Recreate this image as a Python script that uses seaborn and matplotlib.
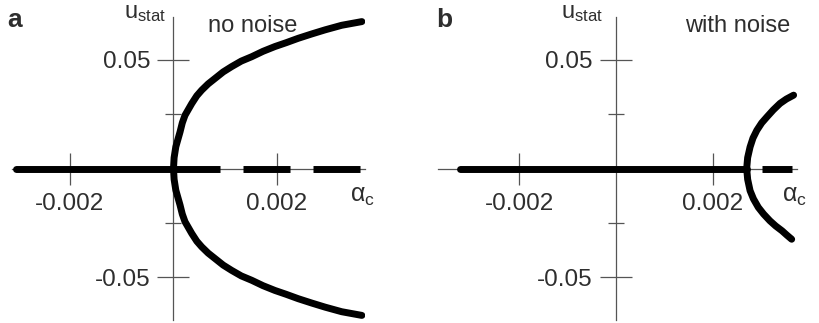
import numpy as np
import pandas as pd
import matplotlib
matplotlib.use("Agg")
import matplotlib.pyplot as plt
import seaborn as sns

# ---------------- data ----------------
# panel a: no noise, pitchfork at alpha_c = 0 (branch listed from bottom to top)
a_branch_alpha = [0.00364, 0.00325, 0.00293, 0.00267, 0.00241, 0.00218, 0.00196, 0.00173, 0.00151,
                  0.00131, 0.00112, 0.00096, 0.000802, 0.00067, 0.000545, 0.00045, 0.000352,
                  0.000222, 0.00017, 0.000126, 0.000045, 0.000012, 0.0,
                  0.000012, 0.000045, 0.000126, 0.00017, 0.000222, 0.000352, 0.00045, 0.000545,
                  0.00067, 0.000802, 0.00096, 0.00112, 0.00131, 0.00151, 0.00173, 0.00196,
                  0.00218, 0.00241, 0.00267, 0.00293, 0.00325, 0.00364]
a_branch_u = [-0.0677, -0.066, -0.0639, -0.062, -0.0600, -0.058, -0.0562, -0.054, -0.0515,
              -0.0495, -0.0469, -0.0445, -0.0415, -0.039, -0.0361, -0.0335, -0.0299,
              -0.0245, -0.021, -0.0168, -0.010, -0.005, 0.0,
              0.005, 0.010, 0.0168, 0.021, 0.0245, 0.0299, 0.0335, 0.0361,
              0.039, 0.0415, 0.0445, 0.0469, 0.0495, 0.0515, 0.054, 0.0562,
              0.058, 0.0600, 0.062, 0.0639, 0.066, 0.0677]
a_stable_alpha = [-0.00305, 0.0]
a_unstable_alpha = [0.0, 0.00368]

# panel b: with noise, bifurcation shifted to the right
b_branch_alpha = [0.00363, 0.00353, 0.00343, 0.0033, 0.00318, 0.00305, 0.00294, 0.00284, 0.00277,
                  0.00272, 0.0027,
                  0.00272, 0.00277, 0.00283, 0.00291, 0.00301, 0.00312, 0.00325, 0.00339,
                  0.00352, 0.00367]
b_branch_u = [-0.0326, -0.0307, -0.0287, -0.0265, -0.0241, -0.021, -0.0179, -0.014, -0.0102,
              -0.005, 0.0,
              0.005, 0.0099, 0.014, 0.0176, 0.021, 0.0238, 0.027, 0.0300,
              0.032, 0.0338]
b_stable_alpha = [-0.00323, 0.0027]
b_unstable_alpha = [0.0027, 0.00363]

x_ticks = [-0.002, 0.002]
x_tick_labels = ["-0.002", "0.002"]
y_ticks = [-0.05, 0.05]
y_tick_labels = ["-0.05", "0.05"]
y_minor = [-0.025, 0.025]

# ---------------- style ----------------
sns.set_style("white")
plt.rcParams["font.family"] = ["Liberation Sans", "DejaVu Sans"]
plt.rcParams["mathtext.fontset"] = "custom"
plt.rcParams["mathtext.rm"] = "Liberation Sans"
plt.rcParams["mathtext.it"] = "Liberation Sans:italic"

TXT = "#2e2e2e"
AX = "#555555"
LW = 5.0
W, H = 819, 323

fig = plt.figure(figsize=(W / 100, H / 100), dpi=100)

def px_axes(left, right, top, bottom):
    return fig.add_axes([left / W, 1 - bottom / H, (right - left) / W, (bottom - top) / H])

ax_a = px_axes(12, 365, 16.6, 320.4)
ax_b = px_axes(438, 797, 16.6, 320.4)

def style_axes(ax, xlim):
    ax.set_xlim(*xlim)
    ax.set_ylim(-0.07, 0.07)
    for s in ["top", "right"]:
        ax.spines[s].set_visible(False)
    for s in ["left", "bottom"]:
        ax.spines[s].set_position(("data", 0))
        ax.spines[s].set_color(AX)
        ax.spines[s].set_linewidth(0.9)
        ax.spines[s].set_zorder(0.5)
    ax.set_xticks(x_ticks)
    ax.set_xticklabels(x_tick_labels)
    ax.set_yticks(y_ticks)
    ax.set_yticklabels(y_tick_labels)
    ax.set_yticks(y_minor, minor=True)
    ax.tick_params(bottom=True, left=True, top=False, right=False)
    ax.tick_params(axis="both", which="major", direction="inout", length=23, width=0.9,
                   color=AX, labelcolor=TXT, labelsize=17.5)
    ax.tick_params(axis="x", which="major", pad=6.5)
    ax.tick_params(axis="y", which="major", pad=5.4)
    ax.tick_params(axis="y", which="minor", left=True, direction="inout", length=11.5,
                   width=0.9, color=AX)
    ax.tick_params(axis="x", which="minor", bottom=False, length=0)
    ax.set_xlabel("")
    ax.set_ylabel("")
    ax.patch.set_alpha(0)

def draw(ax, br_alpha, br_u, st_alpha, un_alpha, dash_offset):
    df_br = pd.DataFrame({"alpha": br_alpha, "u": br_u})
    sns.lineplot(data=df_br, x="alpha", y="u", sort=False, estimator=None, ax=ax,
                 color="black", linewidth=LW, solid_capstyle="round", solid_joinstyle="round")
    df_st = pd.DataFrame({"alpha": st_alpha, "u": [0.0] * len(st_alpha)})
    sns.lineplot(data=df_st, x="alpha", y="u", sort=False, estimator=None, ax=ax,
                 color="black", linewidth=LW, solid_capstyle="round")
    df_un = pd.DataFrame({"alpha": un_alpha, "u": [0.0] * len(un_alpha)})
    sns.lineplot(data=df_un, x="alpha", y="u", sort=False, estimator=None, ax=ax,
                 color="black", linewidth=LW)
    ax.lines[-1].set_linestyle((dash_offset, (6.77, 3.31)))
    ax.lines[-1].set_dash_capstyle("butt")

draw(ax_a, a_branch_alpha, a_branch_u, a_stable_alpha, a_unstable_alpha, 0.0)
draw(ax_b, b_branch_alpha, b_branch_u, b_stable_alpha, b_unstable_alpha, 7.92)

style_axes(ax_a, (-0.00312, 0.00370))
style_axes(ax_b, (-0.00368, 0.00374))

def ftext(x, y, s, **kw):
    fig.text(x / W, 1 - y / H, s, color=TXT, **kw)

ftext(7, 27, "a", fontsize=19, fontweight="bold", va="baseline")
ftext(436, 27, "b", fontsize=19, fontweight="bold", va="baseline")
ftext(166, 18, r"$\mathregular{u_{stat}}$", fontsize=17, ha="right", va="baseline")
ftext(603, 18, r"$\mathregular{u_{stat}}$", fontsize=17, ha="right", va="baseline")
ftext(208, 32, "no noise", fontsize=17, va="baseline")
ftext(685, 32, "with noise", fontsize=17, va="baseline")
ftext(350, 202, r"$\mathregular{\alpha_c}$", fontsize=18, va="baseline")
ftext(782, 202, r"$\mathregular{\alpha_c}$", fontsize=18, va="baseline")

fig.savefig("out.png", dpi=100, facecolor="white")
